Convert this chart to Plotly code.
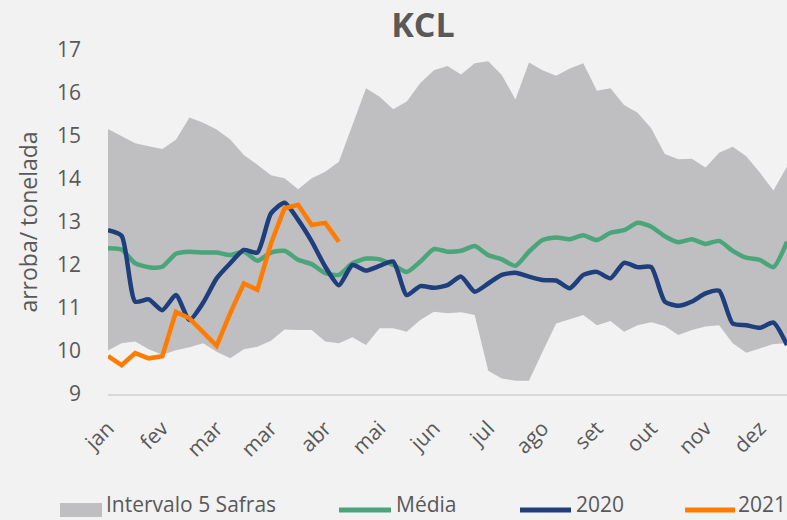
import plotly.graph_objects as go

# ---- data (weekly points; month labels every 4 weeks) ----
month_labels = ["jan", "fev", "mar", "mar", "abr", "mai", "jun", "jul", "ago", "set", "out", "nov", "dez"]

band_upper = [15.16, 15.00, 14.83, 14.76, 14.70, 14.91, 15.43, 15.31, 15.15, 14.92,
              14.56, 14.33, 14.09, 14.02, 13.76, 14.02, 14.17, 14.40, 15.25, 16.11,
              15.91, 15.62, 15.80, 16.23, 16.53, 16.63, 16.43, 16.69, 16.74, 16.42,
              15.85, 16.71, 16.53, 16.40, 16.57, 16.69, 16.05, 16.11, 15.72, 15.54,
              15.18, 14.58, 14.46, 14.47, 14.27, 14.61, 14.75, 14.53, 14.15, 13.73,
              14.29]
band_lower = [10.01, 10.18, 10.22, 10.04, 9.91, 10.02, 10.09, 10.18, 9.98, 9.83,
              10.04, 10.10, 10.24, 10.50, 10.49, 10.49, 10.22, 10.18, 10.32, 10.14,
              10.53, 10.53, 10.45, 10.72, 10.91, 10.88, 10.90, 10.84, 9.54, 9.36,
              9.31, 9.31, 9.98, 10.64, 10.74, 10.84, 10.60, 10.70, 10.45, 10.60,
              10.67, 10.58, 10.37, 10.49, 10.57, 10.60, 10.18, 9.96, 10.06, 10.16,
              10.18]
media = [12.39, 12.36, 12.04, 11.95, 11.96, 12.26, 12.31, 12.29, 12.29, 12.23,
         12.31, 12.10, 12.29, 12.33, 12.12, 12.02, 11.81, 11.77, 12.04, 12.15,
         12.13, 12.00, 11.84, 12.08, 12.37, 12.31, 12.33, 12.44, 12.23, 12.13,
         11.98, 12.31, 12.58, 12.64, 12.60, 12.69, 12.58, 12.75, 12.81, 12.98,
         12.89, 12.67, 12.53, 12.60, 12.49, 12.56, 12.33, 12.17, 12.12, 11.95,
         12.54]
y2020 = [12.81, 12.68, 11.15, 11.20, 10.95, 11.30, 10.72, 11.12, 11.69, 12.04,
         12.35, 12.29, 13.20, 13.45, 13.05, 12.55, 11.96, 11.53, 12.00, 11.87,
         11.98, 12.08, 11.30, 11.51, 11.47, 11.53, 11.73, 11.38, 11.57, 11.77,
         11.82, 11.73, 11.65, 11.64, 11.46, 11.77, 11.84, 11.69, 12.05, 11.95,
         11.95, 11.15, 11.05, 11.15, 11.34, 11.40, 10.64, 10.60, 10.54, 10.66,
         10.14]
y2021 = [9.88, 9.67, 9.95, 9.83, 9.88, 10.91, 10.76, 10.45, 10.12, 10.88,
         11.57, 11.42, 12.50, 13.32, 13.40, 12.93, 12.98, 12.54]

weeks = list(range(len(band_upper)))
tick_weeks = [4 * k for k in range(len(month_labels))]

# ---- styles ----
BG = "#F2F2F2"
TXT = "#595959"
GRAY = "#BFBFC1"
GREEN = "#4AA57A"
BLUE = "#1F3E7C"
ORANGE = "#FF7C00"
FONT = "Open Sans"

W, H = 787, 520
ML, MR, MT, MB = 108, 0, 50, 126
PW, PH = W - ML - MR, H - MT - MB

def px(x):
    return (x - ML) / PW

def py(y):
    return (H - MB - y) / PH

fig = go.Figure()
fig.add_trace(go.Scatter(x=weeks, y=band_lower, mode="lines", line=dict(width=0),
                         showlegend=False, hoverinfo="skip"))
fig.add_trace(go.Scatter(x=weeks, y=band_upper, mode="lines", line=dict(width=0),
                         fill="tonexty", fillcolor=GRAY, name="Intervalo 5 Safras",
                         showlegend=False))
fig.add_trace(go.Scatter(x=weeks, y=media, mode="lines", name="Média",
                         line=dict(color=GREEN, width=4.5, shape="spline", smoothing=0.6),
                         showlegend=False))
fig.add_trace(go.Scatter(x=weeks, y=y2020, mode="lines", name="2020",
                         line=dict(color=BLUE, width=4.5, shape="spline", smoothing=0.6),
                         showlegend=False))
fig.add_trace(go.Scatter(x=weeks[:len(y2021)], y=y2021, mode="lines", name="2021",
                         line=dict(color=ORANGE, width=4.5),
                         showlegend=False))

# ---- manual legend ----
shapes = [
    dict(type="rect", xref="paper", yref="paper", x0=px(60), x1=px(102), y0=py(517), y1=py(503),
         fillcolor=GRAY, line=dict(width=0)),
]
for x0, x1, c in [(339, 391, GREEN), (520, 571, BLUE), (685, 735, ORANGE)]:
    shapes.append(dict(type="line", xref="paper", yref="paper", x0=px(x0), x1=px(x1),
                       y0=py(510), y1=py(510), line=dict(color=c, width=5)))
annotations = []
for xl, t in [(105, "Intervalo 5 Safras"), (395, "Média"), (575, "2020"), (737, "2021")]:
    annotations.append(dict(text=t, xref="paper", yref="paper", x=px(xl), y=py(519),
                            xanchor="left", yanchor="bottom", showarrow=False,
                            borderpad=0,
                            font=dict(family=FONT, size=21, color=TXT)))

fig.update_layout(
    width=W, height=H,
    margin=dict(l=ML, r=MR, t=MT, b=MB),
    paper_bgcolor=BG, plot_bgcolor=BG,
    font=dict(family=FONT, color=TXT, size=21),
    title=dict(text="<b>KCL</b>", x=423 / W, xref="container", xanchor="center",
               y=1 - 25 / H, yref="container", yanchor="middle",
               font=dict(family=FONT, size=34, color=TXT)),
    showlegend=False,
    shapes=shapes,
    annotations=annotations,
    xaxis=dict(range=[0, 50], tickmode="array", tickvals=tick_weeks, ticktext=month_labels,
               tickangle=-45, showgrid=False, zeroline=False, showline=True,
               linecolor="#D9D9D9", linewidth=1.5, ticks="", ticklabelstandoff=12,
               tickfont=dict(family=FONT, size=21, color=TXT)),
    yaxis=dict(range=[9, 17], dtick=1, tick0=9, showgrid=False, zeroline=False,
               showline=False, ticks="", ticklabelstandoff=26,
               tickfont=dict(family=FONT, size=21, color=TXT),
               title=dict(text="arroba/ tonelada", standoff=12,
                          font=dict(family=FONT, size=23, color=TXT))),
)

fig.write_html("out.html", config={"displayModeBar": False},
               post_script="document.body.style.margin='0';document.body.style.overflow='hidden';")
